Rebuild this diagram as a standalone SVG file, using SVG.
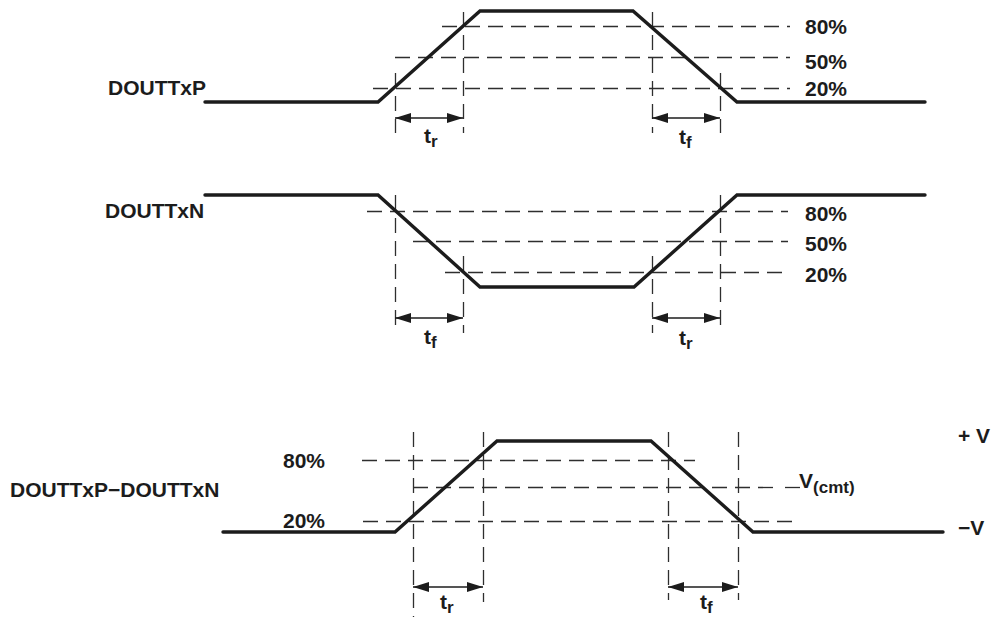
<svg xmlns="http://www.w3.org/2000/svg" width="992" height="617" viewBox="0 0 992 617">
<style>
.wave{fill:none;stroke:#1c1c1c;stroke-width:3.4;stroke-linejoin:miter;stroke-linecap:round}
.dash{fill:none;stroke:#2e2e2e;stroke-width:1.3;stroke-dasharray:15 8}
.dim{fill:none;stroke:#1c1c1c;stroke-width:1.4}
.lbl{font-family:"Liberation Sans",Arial,sans-serif;font-weight:bold;font-size:21px;fill:#1c1c1c}
.sub{font-size:17px}
</style>
<defs>
<marker id="ah" viewBox="0 0 16 10" refX="16" refY="5" markerWidth="16" markerHeight="10" markerUnits="userSpaceOnUse" orient="auto-start-reverse">
<path d="M0,0 L16,5 L0,10 Z" fill="#1c1c1c"/>
</marker>
</defs>

<g id="connectors">
<line class="dash" x1="442" y1="26.5" x2="790" y2="26.5"/>
<line class="dash" x1="395" y1="57.5" x2="790" y2="57.5"/>
<line class="dash" x1="373" y1="88.5" x2="790" y2="88.5"/>
<line class="dash" x1="395.5" y1="73" x2="395.5" y2="133"/>
<line class="dash" x1="463.5" y1="12" x2="463.5" y2="133"/>
<line class="dash" x1="652.5" y1="12" x2="652.5" y2="133"/>
<line class="dash" x1="720.5" y1="73" x2="720.5" y2="133"/>
<line class="dim" x1="395" y1="118" x2="463" y2="118" marker-start="url(#ah)" marker-end="url(#ah)"/>
<line class="dim" x1="652" y1="118" x2="720" y2="118" marker-start="url(#ah)" marker-end="url(#ah)"/>

<line class="dash" x1="367" y1="211.5" x2="788" y2="211.5"/>
<line class="dash" x1="413" y1="241.5" x2="788" y2="241.5"/>
<line class="dash" x1="445" y1="272.5" x2="788" y2="272.5"/>
<line class="dash" x1="395.5" y1="195" x2="395.5" y2="333"/>
<line class="dash" x1="463.5" y1="256" x2="463.5" y2="333"/>
<line class="dash" x1="652.5" y1="256" x2="652.5" y2="333"/>
<line class="dash" x1="720.5" y1="195" x2="720.5" y2="333"/>
<line class="dim" x1="395" y1="318" x2="463" y2="318" marker-start="url(#ah)" marker-end="url(#ah)"/>
<line class="dim" x1="652" y1="318" x2="720" y2="318" marker-start="url(#ah)" marker-end="url(#ah)"/>

<line class="dash" x1="362" y1="460.5" x2="695" y2="460.5"/>
<line class="dash" x1="413" y1="487.5" x2="779" y2="487.5"/>
<line x1="785" y1="487.5" x2="800" y2="487.5" style="stroke:#2e2e2e;stroke-width:1.3"/>
<line class="dash" x1="363" y1="521.5" x2="793" y2="521.5"/>
<line class="dash" x1="413.5" y1="432" x2="413.5" y2="617"/>
<line class="dash" x1="483.5" y1="432" x2="483.5" y2="602"/>
<line class="dash" x1="668.5" y1="432" x2="668.5" y2="600"/>
<line class="dash" x1="738.5" y1="432" x2="738.5" y2="600"/>
<line class="dim" x1="413" y1="587" x2="483" y2="587" marker-start="url(#ah)" marker-end="url(#ah)"/>
<line class="dim" x1="668" y1="587" x2="738" y2="587" marker-start="url(#ah)" marker-end="url(#ah)"/>
</g>

<g id="wave-p">
<polyline class="wave" points="205,102 378,102 480,11 633,11 737,102 925,102"/>
<text class="lbl" x="108" y="95">DOUTTxP</text>
</g>
<g id="wave-n">
<polyline class="wave" points="205,195 378,195 480,287 634,287 737,195 925,195"/>
<text class="lbl" x="105" y="218">DOUTTxN</text>
</g>
<g id="wave-diff">
<polyline class="wave" points="223,532 395,532 497,441 651,441 753,532 943,532"/>
<text class="lbl" x="10" y="497">DOUTTxP−DOUTTxN</text>
</g>

<g id="labels-top">
<text class="lbl" x="805" y="34">80%</text>
<text class="lbl" x="805" y="69">50%</text>
<text class="lbl" x="805" y="96">20%</text>
<text class="lbl" x="424" y="143">t<tspan class="sub" dy="4">r</tspan></text>
<text class="lbl" x="679" y="144">t<tspan class="sub" dy="4">f</tspan></text>
</g>
<g id="labels-mid">
<text class="lbl" x="805" y="221">80%</text>
<text class="lbl" x="805" y="251">50%</text>
<text class="lbl" x="805" y="282">20%</text>
<text class="lbl" x="424" y="344">t<tspan class="sub" dy="4">f</tspan></text>
<text class="lbl" x="679" y="345">t<tspan class="sub" dy="4">r</tspan></text>
</g>
<g id="labels-bottom">
<text class="lbl" x="283" y="468">80%</text>
<text class="lbl" x="283" y="528">20%</text>
<text class="lbl" x="958" y="443">+ V</text>
<text class="lbl" x="958" y="535">−V</text>
<text class="lbl" x="799" y="488">V<tspan class="sub" dy="5">(cmt)</tspan></text>
<text class="lbl" x="440" y="609">t<tspan class="sub" dy="4">r</tspan></text>
<text class="lbl" x="700" y="609">t<tspan class="sub" dy="4">f</tspan></text>
</g>
</svg>
